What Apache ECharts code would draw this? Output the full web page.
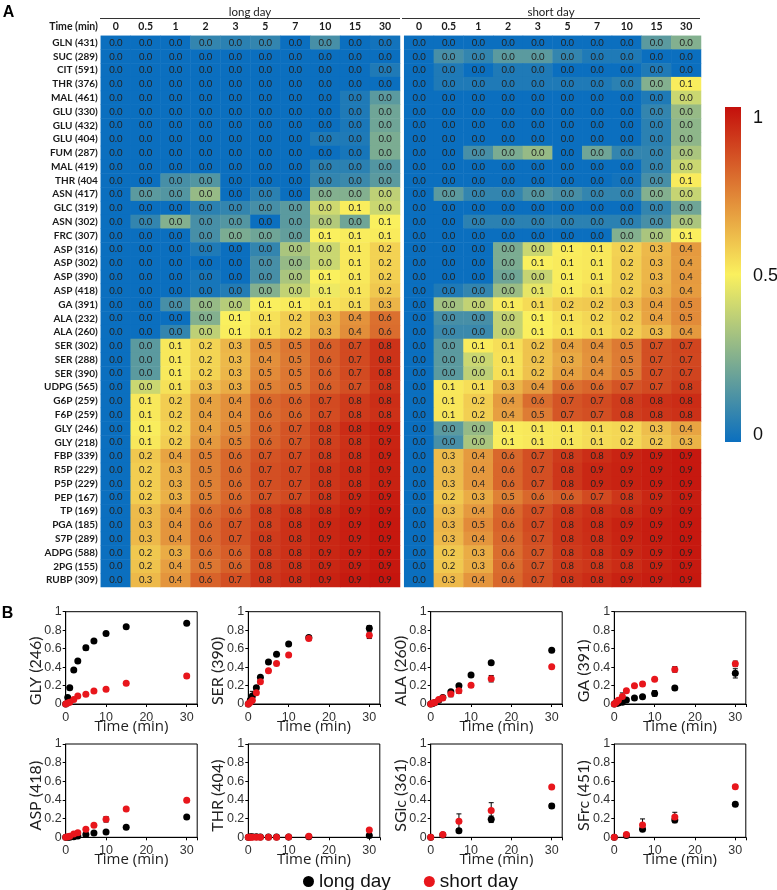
<!DOCTYPE html>
<html>
<head>
<meta charset="utf-8">
<script src="https://cdn.jsdelivr.net/npm/echarts@6/dist/echarts.min.js"></script>
<style>
html, body { margin: 0; padding: 0; background: #fff; }
#chart { width: 777px; height: 890px; }
</style>
</head>
<body>
<div id="chart"></div>
<script>
// ---- panel A: heatmap ----
const times = ['0', '0.5', '1', '2', '3', '5', '7', '10', '15', '30']
const metabolites = [
  'GLN (431)', 'SUC (289)', 'CIT (591)', 'THR (376)', 'MAL (461)', 'GLU (330)', 'GLU (432)', 'GLU (404)',
  'FUM (287)', 'MAL (419)', 'THR (404', 'ASN (417)', 'GLC (319)', 'ASN (302)', 'FRC (307)', 'ASP (316)',
  'ASP (302)', 'ASP (390)', 'ASP (418)', 'GA (391)', 'ALA (232)', 'ALA (260)', 'SER (302)', 'SER (288)',
  'SER (390)', 'UDPG (565)', 'G6P (259)', 'F6P (259)', 'GLY (246)', 'GLY (218)', 'FBP (339)', 'R5P (229)',
  'P5P (229)', 'PEP (167)', 'TP (169)', 'PGA (185)', 'S7P (289)', 'ADPG (588)', '2PG (155)', 'RUBP (309)'
]

const longDay = [
  [0, 0, 0, 0.01, 0.008, 0.01, 0, 0.015, 0, 0.002],
  [0, 0, 0, 0, 0, 0, 0, 0, 0, 0],
  [0, 0, 0, 0, 0, 0, 0, 0, 0, 0.005],
  [0, 0, 0, 0, 0, 0, 0, 0, 0, 0],
  [0, 0, 0, 0, 0, 0, 0, 0, 0.005, 0.02],
  [0, 0, 0, 0, 0, 0, 0, 0, 0.005, 0.025],
  [0, 0, 0, 0, 0, 0, 0, 0, 0.004, 0.025],
  [0, 0, 0, 0, 0, 0, 0, 0.005, 0.005, 0.028],
  [0, 0, 0, 0, 0, 0, 0, 0, 0.003, 0.028],
  [0, 0, 0, 0, 0, 0, 0, 0.008, 0.008, 0.018],
  [0, 0, 0.015, 0.018, 0, 0, 0, 0.01, 0.012, 0.02],
  [0, 0.02, 0.018, 0.035, 0, 0.008, 0, 0.03, 0.03, 0.045],
  [0, 0, 0, 0.008, 0.01, 0.015, 0.02, 0.049, 0.07, 0.048],
  [0, 0.01, 0.03, 0.015, 0.018, 0, 0.02, 0.042, 0.025, 0.06],
  [0, 0, 0, 0.015, 0.028, 0.025, 0.022, 0.06, 0.07, 0.08],
  [0, 0, 0, 0.005, 0, 0.01, 0.04, 0.048, 0.09, 0.18],
  [0, 0, 0, 0, 0, 0.015, 0.035, 0.048, 0.09, 0.18],
  [0, 0, 0, 0.003, 0, 0.015, 0.04, 0.06, 0.09, 0.19],
  [0, 0, 0, 0.003, 0.006, 0.03, 0.046, 0.057, 0.107, 0.218],
  [0, 0, 0.015, 0.035, 0.043, 0.065, 0.08, 0.115, 0.14, 0.3],
  [0, 0, 0, 0.03, 0.06, 0.12, 0.2, 0.3, 0.43, 0.57],
  [0, 0, 0.01, 0.045, 0.07, 0.134, 0.199, 0.314, 0.448, 0.581],
  [0, 0.02, 0.09, 0.17, 0.29, 0.46, 0.54, 0.64, 0.72, 0.81],
  [0, 0.02, 0.09, 0.17, 0.28, 0.44, 0.53, 0.64, 0.72, 0.81],
  [0, 0.02, 0.087, 0.177, 0.289, 0.46, 0.54, 0.64, 0.72, 0.82],
  [0, 0.048, 0.12, 0.26, 0.33, 0.5, 0.54, 0.64, 0.7, 0.8],
  [0, 0.09, 0.2, 0.37, 0.44, 0.6, 0.64, 0.72, 0.78, 0.83],
  [0, 0.09, 0.2, 0.37, 0.44, 0.59, 0.63, 0.71, 0.78, 0.82],
  [0, 0.07, 0.177, 0.368, 0.466, 0.61, 0.682, 0.765, 0.838, 0.874],
  [0, 0.09, 0.2, 0.4, 0.5, 0.62, 0.68, 0.76, 0.82, 0.87],
  [0, 0.22, 0.36, 0.5, 0.6, 0.68, 0.72, 0.78, 0.83, 0.88],
  [0, 0.2, 0.33, 0.5, 0.6, 0.7, 0.73, 0.8, 0.84, 0.88],
  [0, 0.2, 0.33, 0.5, 0.6, 0.7, 0.73, 0.8, 0.84, 0.88],
  [0, 0.2, 0.31, 0.5, 0.6, 0.68, 0.72, 0.8, 0.86, 0.9],
  [0, 0.27, 0.4, 0.58, 0.64, 0.76, 0.8, 0.84, 0.88, 0.91],
  [0, 0.28, 0.42, 0.6, 0.68, 0.76, 0.82, 0.86, 0.89, 0.92],
  [0, 0.28, 0.42, 0.6, 0.68, 0.78, 0.82, 0.86, 0.89, 0.92],
  [0, 0.22, 0.33, 0.58, 0.64, 0.78, 0.82, 0.86, 0.89, 0.92],
  [0, 0.24, 0.38, 0.54, 0.63, 0.78, 0.82, 0.86, 0.89, 0.92],
  [0, 0.28, 0.42, 0.62, 0.7, 0.8, 0.84, 0.88, 0.91, 0.93]
]

const shortDay = [
  [0, 0, 0, 0, 0, 0, 0, 0, 0.02, 0.03],
  [0, 0.015, 0.01, 0.02, 0.02, 0.01, 0.005, 0.005, 0, 0],
  [0, 0.005, 0, 0.005, 0.005, 0, 0, 0, 0.005, 0],
  [0, 0.005, 0.005, 0.005, 0.005, 0.005, 0.005, 0.008, 0.03, 0.07],
  [0, 0, 0, 0, 0, 0, 0, 0, 0.005, 0.048],
  [0, 0, 0, 0, 0, 0, 0, 0, 0.01, 0.035],
  [0, 0, 0, 0, 0, 0, 0, 0, 0.008, 0.033],
  [0, 0, 0, 0, 0, 0, 0, 0, 0.008, 0.033],
  [0, 0, 0.015, 0.028, 0.035, 0, 0.025, 0.01, 0.01, 0.04],
  [0, 0, 0, 0, 0, 0, 0, 0, 0.01, 0.048],
  [0, 0, 0, 0, 0, 0, 0, 0.002, 0.015, 0.079],
  [0, 0.02, 0.01, 0.01, 0.018, 0.015, 0.01, 0.01, 0.03, 0.047],
  [0, 0, 0, 0, 0, 0, 0, 0, 0.01, 0.025],
  [0, 0, 0.008, 0.008, 0.008, 0.008, 0.008, 0.008, 0.015, 0.04],
  [0, 0, 0, 0, 0, 0, 0, 0.03, 0.04, 0.065],
  [0, 0, 0, 0.028, 0.048, 0.07, 0.09, 0.18, 0.28, 0.4],
  [0, 0, 0, 0.028, 0.06, 0.08, 0.09, 0.19, 0.29, 0.39],
  [0, 0, 0, 0.025, 0.047, 0.07, 0.1, 0.19, 0.29, 0.4],
  [0, 0.005, 0.01, 0.036, 0.055, 0.086, 0.129, 0.193, 0.304, 0.396],
  [0, 0.038, 0.046, 0.08, 0.144, 0.199, 0.217, 0.267, 0.375, 0.46],
  [0, 0.015, 0.015, 0.046, 0.06, 0.12, 0.16, 0.22, 0.36, 0.46],
  [0, 0.012, 0.012, 0.046, 0.065, 0.108, 0.144, 0.202, 0.274, 0.404],
  [0, 0.02, 0.08, 0.13, 0.24, 0.37, 0.44, 0.53, 0.7, 0.74],
  [0, 0.02, 0.048, 0.12, 0.24, 0.34, 0.43, 0.52, 0.7, 0.73],
  [0, 0.02, 0.045, 0.123, 0.242, 0.368, 0.44, 0.53, 0.71, 0.744],
  [0, 0.09, 0.13, 0.3, 0.4, 0.57, 0.61, 0.68, 0.72, 0.78],
  [0, 0.1, 0.2, 0.4, 0.58, 0.68, 0.72, 0.78, 0.82, 0.84],
  [0, 0.1, 0.19, 0.38, 0.52, 0.67, 0.7, 0.77, 0.8, 0.82],
  [0, 0.02, 0.035, 0.08, 0.09, 0.1, 0.14, 0.16, 0.26, 0.36],
  [0, 0.015, 0.04, 0.07, 0.09, 0.105, 0.14, 0.159, 0.224, 0.303],
  [0, 0.27, 0.4, 0.6, 0.7, 0.78, 0.83, 0.87, 0.9, 0.92],
  [0, 0.27, 0.41, 0.61, 0.7, 0.8, 0.86, 0.88, 0.9, 0.92],
  [0, 0.27, 0.41, 0.61, 0.7, 0.8, 0.86, 0.88, 0.9, 0.92],
  [0, 0.22, 0.33, 0.5, 0.6, 0.64, 0.72, 0.8, 0.86, 0.9],
  [0, 0.27, 0.4, 0.6, 0.7, 0.78, 0.82, 0.84, 0.88, 0.91],
  [0, 0.3, 0.46, 0.62, 0.72, 0.8, 0.84, 0.88, 0.9, 0.92],
  [0, 0.28, 0.42, 0.6, 0.7, 0.8, 0.83, 0.87, 0.9, 0.92],
  [0, 0.22, 0.33, 0.58, 0.68, 0.78, 0.82, 0.86, 0.89, 0.92],
  [0, 0.22, 0.33, 0.58, 0.68, 0.77, 0.8, 0.84, 0.88, 0.91],
  [0, 0.28, 0.42, 0.6, 0.7, 0.8, 0.84, 0.88, 0.9, 0.92]
]

const colorbarTicks = ['1', '0.5', '0']

// ---- panel B: time courses (mean, error) ----
const labTimes = [0, 0.5, 1, 2, 3, 5, 7, 10, 15, 30]
const sugarTimes = [0, 3, 7, 15, 30]

const glyLong = [0, 0.07, 0.177, 0.368, 0.466, 0.61, 0.682, 0.765, 0.838, 0.874]
const glyLongErr = [0, 0.01, 0.015, 0.015, 0.015, 0.025, 0.015, 0.01, 0.01, 0.01]
const glyShort = [0, 0.01, 0.02, 0.05, 0.087, 0.105, 0.14, 0.159, 0.224, 0.303]
const glyShortErr = [0, 0.005, 0.005, 0.008, 0.01, 0.01, 0.01, 0.012, 0.015, 0.02]

const serLong = [0, 0.04, 0.087, 0.177, 0.289, 0.455, 0.54, 0.65, 0.72, 0.82]
const serLongErr = [0, 0.02, 0.05, 0.02, 0.01, 0.015, 0.01, 0.015, 0.02, 0.03]
const serShort = [0, 0.02, 0.04, 0.123, 0.242, 0.36, 0.44, 0.53, 0.71, 0.744]
const serShortErr = [0, 0.01, 0.01, 0.02, 0.02, 0.02, 0.01, 0.015, 0.02, 0.035]

const alaLong = [0, 0.005, 0.015, 0.04, 0.07, 0.134, 0.199, 0.314, 0.448, 0.581]
const alaLongErr = [0, 0, 0.005, 0.005, 0.01, 0.01, 0.015, 0.01, 0.015, 0.015]
const alaShort = [0, 0.01, 0.015, 0.05, 0.065, 0.108, 0.144, 0.202, 0.274, 0.404]
const alaShortErr = [0, 0.005, 0.005, 0.01, 0.01, 0.03, 0.03, 0.02, 0.035, 0.01]

const gaLong = [0, 0.005, 0.01, 0.02, 0.043, 0.065, 0.079, 0.115, 0.173, 0.332]
const gaLongErr = [0, 0, 0.005, 0.005, 0.01, 0.01, 0.02, 0.03, 0.02, 0.05]
const gaShort = [0, 0.02, 0.04, 0.08, 0.144, 0.199, 0.217, 0.267, 0.375, 0.435]
const gaShortErr = [0, 0.01, 0.02, 0.04, 0.02, 0.015, 0.02, 0.015, 0.03, 0.03]

const aspLong = [0, 0, 0, 0.005, 0.014, 0.03, 0.046, 0.057, 0.107, 0.218]
const aspLongErr = [0, 0, 0, 0.003, 0.005, 0.005, 0.005, 0.01, 0.008, 0.015]
const aspShort = [0, 0.005, 0.01, 0.036, 0.05, 0.086, 0.129, 0.193, 0.304, 0.396]
const aspShortErr = [0, 0.003, 0.005, 0.008, 0.015, 0.015, 0.01, 0.03, 0.01, 0.02]

const thrLong = [0, 0.005, 0.005, 0.005, 0.003, 0.002, 0.002, 0.003, 0.005, 0.018]
const thrLongErr = [0, 0.003, 0.005, 0.005, 0.003, 0.002, 0.002, 0.003, 0.005, 0.008]
const thrShort = [0, 0, 0, 0, 0, 0, 0, 0.002, 0.01, 0.079]
const thrShortErr = [0, 0, 0, 0, 0, 0, 0, 0, 0.005, 0.01]

const sglcLong = [0, 0.025, 0.071, 0.193, 0.336]
const sglcLongErr = [0, 0.005, 0.015, 0.035, 0.025]
const sglcShort = [0, 0.029, 0.171, 0.286, 0.539]
const sglcShortErr = [0, 0.005, 0.08, 0.085, 0.01]

const sfrcLong = [0, 0.02, 0.086, 0.186, 0.354]
const sfrcLongErr = [0, 0.005, 0.015, 0.03, 0.02]
const sfrcShort = [0, 0.029, 0.132, 0.218, 0.543]
const sfrcShortErr = [0, 0.005, 0.065, 0.05, 0.02]

const plots = [
  { name: 'GLY (246)', t: labTimes, l: glyLong, le: glyLongErr, s: glyShort, se: glyShortErr },
  { name: 'SER (390)', t: labTimes, l: serLong, le: serLongErr, s: serShort, se: serShortErr },
  { name: 'ALA (260)', t: labTimes, l: alaLong, le: alaLongErr, s: alaShort, se: alaShortErr },
  { name: 'GA (391)', t: labTimes, l: gaLong, le: gaLongErr, s: gaShort, se: gaShortErr },
  { name: 'ASP (418)', t: labTimes, l: aspLong, le: aspLongErr, s: aspShort, se: aspShortErr },
  { name: 'THR (404)', t: labTimes, l: thrLong, le: thrLongErr, s: thrShort, se: thrShortErr },
  { name: 'SGlc (361)', t: sugarTimes, l: sglcLong, le: sglcLongErr, s: sglcShort, se: sglcShortErr },
  { name: 'SFrc (451)', t: sugarTimes, l: sfrcLong, le: sfrcLongErr, s: sfrcShort, se: sfrcShortErr }
]

// colour ramp: blue at 0, yellow at the median (~0.06), red near the top
const BLUE = [11, 111, 191], YELLOW = [250, 240, 94], RED = [196, 16, 12]
const ramp = [[0, BLUE], [0.06, YELLOW], [0.95, RED], [1, RED]]
function colourAt(v) {
  for (let i = 1; i < ramp.length; i++) {
    if (v <= ramp[i][0]) {
      const [a, ca] = ramp[i - 1], [b, cb] = ramp[i]
      const t = (v - a) / (b - a)
      const c = ca.map((x, k) => Math.round(x + (cb[k] - x) * t))
      return `rgb(${c[0]},${c[1]},${c[2]})`
    }
  }
  return `rgb(${RED.join(',')})`
}
const rampColours = Array.from({ length: 201 }, (_, i) => colourAt(i / 200))

const toCells = rows => rows.flatMap((row, y) => row.map((v, x) => [x, y, v]))

const chart = echarts.init(document.getElementById('chart'))

const heatGrids = [
  { left: 100.8, top: 35.8, width: 299.2, height: 551.2 },
  { left: 404.2, top: 35.8, width: 296.8, height: 551.2 }
]
const plotLefts = [65.7, 248.3, 430.7, 614.3]
const plotTops = [611.7, 744]
const plotHeights = [92.3, 93.3]
const nameShift = [26, 10]

const grids = heatGrids.map(g => ({ ...g, outerBoundsMode: 'none' }))
const xAxes = []
const yAxes = []
const series = []

heatGrids.forEach((g, i) => {
  xAxes.push({
    type: 'category', gridIndex: i, data: times, position: 'top',
    axisLine: { show: false }, axisTick: { show: false }, splitLine: { show: false },
    axisLabel: { interval: 0, margin: 4, fontFamily: 'Lato', fontWeight: 'bold', fontSize: 10.5, color: '#1a1a1a' }
  })
  yAxes.push({
    type: 'category', gridIndex: i, data: metabolites, inverse: true,
    axisLine: { show: false }, axisTick: { show: false }, splitLine: { show: false },
    axisLabel: { show: i === 0, interval: 0, margin: 3, fontFamily: 'Lato', fontWeight: 'bold', fontSize: 10, color: '#1a1a1a' }
  })
})

series.push(
  {
    type: 'heatmap', name: 'long', xAxisIndex: 0, yAxisIndex: 0, data: toCells(longDay),
    itemStyle: { borderWidth: 0 }, emphasis: { disabled: true },
    label: { show: true, fontFamily: 'Lato', fontSize: 9.5, color: '#222', formatter: p => p.value[2].toFixed(1) }
  },
  {
    type: 'heatmap', name: 'short', xAxisIndex: 1, yAxisIndex: 1, data: toCells(shortDay),
    itemStyle: { borderWidth: 0 }, emphasis: { disabled: true },
    label: { show: true, fontFamily: 'Lato', fontSize: 9.5, color: '#222', formatter: p => p.value[2].toFixed(1) }
  }
)

function errorBar(params, api) {
  const x = api.value(0), lo = api.value(1), hi = api.value(2)
  if (hi - lo <= 0) return null
  const top = api.coord([x, hi]), bot = api.coord([x, lo])
  const w = 2.5
  const style = { stroke: '#000', lineWidth: 1 }
  return {
    type: 'group',
    children: [
      { type: 'line', shape: { x1: top[0], y1: top[1], x2: bot[0], y2: bot[1] }, style },
      { type: 'line', shape: { x1: top[0] - w, y1: top[1], x2: top[0] + w, y2: top[1] }, style },
      { type: 'line', shape: { x1: bot[0] - w, y1: bot[1], x2: bot[0] + w, y2: bot[1] }, style }
    ]
  }
}

plots.forEach((p, i) => {
  const row = Math.floor(i / 4), col = i % 4
  const gi = i + 2
  grids.push({
    left: plotLefts[col], top: plotTops[row], width: 131.5, height: plotHeights[row],
    show: true, borderColor: '#000', borderWidth: 1, outerBoundsMode: 'none'
  })
  xAxes.push({
    type: 'value', gridIndex: gi, min: 0, max: 32.6, interval: 10,
    name: 'Time (min)', nameLocation: 'middle', nameGap: 15, nameMoveOverlap: false,
    nameTextStyle: { fontFamily: 'Open Sans', fontSize: 15, color: '#222' },
    axisLine: { lineStyle: { color: '#000' } },
    axisTick: { show: true, inside: false, length: 3, lineStyle: { color: '#000' } },
    splitLine: { show: false },
    axisLabel: { margin: 7, fontFamily: 'Liberation Sans', fontSize: 12.5, color: '#333', formatter: v => (v % 10 === 0 ? v : '') }
  })
  yAxes.push({
    type: 'value', gridIndex: gi, min: 0, max: 1, interval: 0.2,
    name: p.name, nameLocation: 'middle', nameGap: 22, nameMoveOverlap: false,
    nameTextStyle: { fontFamily: 'Lato', fontSize: 16, color: '#222', padding: [0, nameShift[row], 0, 0] },
    axisLine: { lineStyle: { color: '#000' } },
    axisTick: { show: true, inside: false, length: 3, lineStyle: { color: '#000' } },
    splitLine: { show: false },
    axisLabel: { margin: 4, fontFamily: 'Liberation Sans', fontSize: 12.5, color: '#333' }
  })
  const bars = (m, e) => p.t.map((t, k) => [t, m[k] - e[k], m[k] + e[k]])
  series.push(
    { type: 'custom', xAxisIndex: gi, yAxisIndex: gi, renderItem: errorBar, encode: { x: 0, y: [1, 2] }, data: bars(p.l, p.le), z: 2, silent: true },
    { type: 'custom', xAxisIndex: gi, yAxisIndex: gi, renderItem: errorBar, encode: { x: 0, y: [1, 2] }, data: bars(p.s, p.se), z: 2, silent: true },
    { type: 'scatter', name: 'long day', xAxisIndex: gi, yAxisIndex: gi, symbolSize: 7, itemStyle: { color: '#000', opacity: 1 }, data: p.t.map((t, k) => [t, p.l[k]]), z: 3 },
    { type: 'scatter', name: 'short day', xAxisIndex: gi, yAxisIndex: gi, symbolSize: 7, itemStyle: { color: '#E8161C', opacity: 1 }, data: p.t.map((t, k) => [t, p.s[k]]), z: 4 }
  )
})

const graphics = [
  { type: 'text', x: 8.5, y: 12.5, style: { text: 'A', font: 'bold 16px "Liberation Sans"', fill: '#000', align: 'center', verticalAlign: 'middle', textAlign: 'center', textVerticalAlign: 'middle' } },
  { type: 'text', x: 7.5, y: 614, style: { text: 'B', font: 'bold 16px "Liberation Sans"', fill: '#000', align: 'center', verticalAlign: 'middle', textAlign: 'center', textVerticalAlign: 'middle' } },
  { type: 'text', x: 250, y: 12.5, style: { text: 'long day', font: '11.5px Lato', fill: '#222', align: 'center', verticalAlign: 'middle', textAlign: 'center', textVerticalAlign: 'middle' } },
  { type: 'text', x: 551, y: 12.5, style: { text: 'short day', font: '11.5px Lato', fill: '#222', align: 'center', verticalAlign: 'middle', textAlign: 'center', textVerticalAlign: 'middle' } },
  { type: 'line', shape: { x1: 100, y1: 18.5, x2: 400, y2: 18.5 }, style: { stroke: '#333', lineWidth: 1 } },
  { type: 'line', shape: { x1: 402, y1: 18.5, x2: 700, y2: 18.5 }, style: { stroke: '#333', lineWidth: 1 } },
  { type: 'text', x: 98, y: 27, style: { text: 'Time (min)', font: 'bold 10.5px Lato', fill: '#1a1a1a', align: 'right', verticalAlign: 'middle', textAlign: 'right', textVerticalAlign: 'middle' } },
  {
    type: 'rect', shape: { x: 725, y: 107, width: 16, height: 335 },
    style: {
      fill: new echarts.graphic.LinearGradient(0, 0, 0, 1, [
        { offset: 0, color: colourAt(1) },
        { offset: 0.5, color: colourAt(0.06) },
        { offset: 1, color: colourAt(0) }
      ])
    }
  }
]
const tickY = [118, 276.5, 435]
colorbarTicks.forEach((t, k) => {
  graphics.push({ type: 'text', x: 753, y: tickY[k], style: { text: t, font: '18px "Liberation Sans"', fill: '#111', align: 'left', verticalAlign: 'middle', textAlign: 'left', textVerticalAlign: 'middle' } })
})

chart.setOption({
  backgroundColor: '#fff',
  animation: false,
  grid: grids,
  xAxis: xAxes,
  yAxis: yAxes,
  visualMap: {
    type: 'continuous', show: false, min: 0, max: 1, seriesIndex: [0, 1],
    inRange: { color: rampColours }
  },
  legend: {
    data: ['long day', 'short day'], left: 298, top: 867, icon: 'circle',
    itemWidth: 11, itemHeight: 11, itemGap: 33,
    textStyle: { fontFamily: 'Liberation Sans', fontSize: 19, color: '#111' }
  },
  graphic: graphics,
  series
})
</script>
</body>
</html>
